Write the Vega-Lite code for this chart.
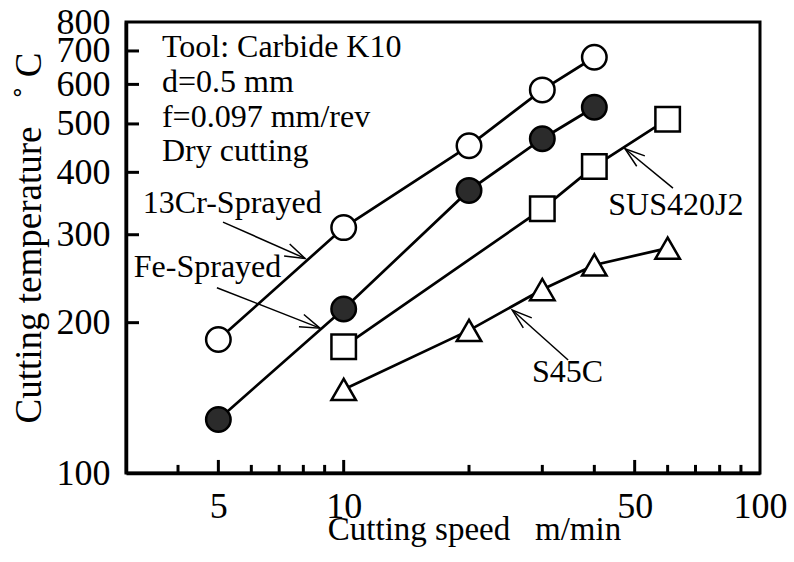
{
  "$schema": "https://vega.github.io/schema/vega-lite/v6.json",
  "width": 634,
  "height": 451,
  "autosize": {"type": "none"},
  "padding": {"left": 126, "top": 22, "right": 34, "bottom": 89},
  "background": "white",
  "config": {
    "view": {"stroke": "black", "strokeWidth": 3},
    "font": "Liberation Serif"
  },
  "datasets": {
    "points": [
      {"series": "13Cr-Sprayed", "speed": 5, "temp": 185},
      {"series": "13Cr-Sprayed", "speed": 10, "temp": 310},
      {"series": "13Cr-Sprayed", "speed": 20, "temp": 452},
      {"series": "13Cr-Sprayed", "speed": 30, "temp": 585},
      {"series": "13Cr-Sprayed", "speed": 40, "temp": 680},
      {"series": "Fe-Sprayed", "speed": 5, "temp": 128},
      {"series": "Fe-Sprayed", "speed": 10, "temp": 213},
      {"series": "Fe-Sprayed", "speed": 20, "temp": 368},
      {"series": "Fe-Sprayed", "speed": 30, "temp": 467},
      {"series": "Fe-Sprayed", "speed": 40, "temp": 540},
      {"series": "SUS420J2", "speed": 10, "temp": 179},
      {"series": "SUS420J2", "speed": 30, "temp": 338},
      {"series": "SUS420J2", "speed": 40, "temp": 411},
      {"series": "SUS420J2", "speed": 60, "temp": 511},
      {"series": "S45C", "speed": 10, "temp": 147},
      {"series": "S45C", "speed": 20, "temp": 193},
      {"series": "S45C", "speed": 30, "temp": 233},
      {"series": "S45C", "speed": 40, "temp": 261},
      {"series": "S45C", "speed": 60, "temp": 282}
    ],
    "arrows": [
      {"name": "13Cr", "x1": 5.13, "y1": 318, "x2": 8.075, "y2": 269},
      {"name": "Fe", "x1": 4.96, "y1": 235, "x2": 8.77, "y2": 195},
      {"name": "SUS", "x1": 61.8, "y1": 372, "x2": 47.4, "y2": 446},
      {"name": "S45C", "x1": 34.6, "y1": 168.4, "x2": 25.4, "y2": 212}
    ],
    "info": [
      {"line": "Tool: Carbide K10", "sx": 3.66, "ty": 681},
      {"line": "d=0.5 mm", "sx": 3.66, "ty": 579},
      {"line": "f=0.097 mm/rev", "sx": 3.66, "ty": 493},
      {"line": "Dry cutting", "sx": 3.66, "ty": 421}
    ],
    "labels": [
      {"label": "13Cr-Sprayed", "sx": 5.4, "ty": 331.6},
      {"label": "Fe-Sprayed", "sx": 4.71, "ty": 247},
      {"label": "SUS420J2", "sx": 62.8, "ty": 328.6},
      {"label": "S45C", "sx": 34.5, "ty": 152}
    ],
    "xticks": [
      {"v": 4, "kind": "minor"}, {"v": 5, "kind": "major"}, {"v": 6, "kind": "minor"},
      {"v": 7, "kind": "minor"}, {"v": 8, "kind": "minor"}, {"v": 9, "kind": "minor"},
      {"v": 10, "kind": "major"}, {"v": 20, "kind": "minor"}, {"v": 30, "kind": "minor"},
      {"v": 40, "kind": "minor"}, {"v": 50, "kind": "major"}, {"v": 60, "kind": "minor"},
      {"v": 70, "kind": "minor"}, {"v": 80, "kind": "minor"}, {"v": 90, "kind": "minor"}
    ],
    "yticks": [
      {"v": 200}, {"v": 300}, {"v": 400}, {"v": 500}, {"v": 600}, {"v": 700}
    ]
  },
  "layer": [
    {
      "data": {"name": "points"},
      "mark": {"type": "line", "color": "black", "strokeWidth": 2.7},
      "encoding": {
        "x": {
          "field": "speed", "type": "quantitative",
          "scale": {"type": "log", "domain": [3, 100], "nice": false},
          "axis": {
            "values": [5, 10, 50, 100],
            "format": "d",
            "grid": false,
            "ticks": false,
            "domainColor": "black",
            "domainWidth": 3.5,
            "labelFont": "Liberation Serif",
            "labelFontSize": 36,
            "labelColor": "black",
            "labelPadding": 16,
            "labelFlush": false,
            "labelOverlap": false,
            "title": "Cutting speed\u2002 m/min",
            "titleFont": "Liberation Serif",
            "titleFontSize": 33,
            "titleFontWeight": "normal",
            "titleColor": "black",
            "titleX": 348,
            "titleY": 66,
            "titleAlign": "center",
            "titleBaseline": "alphabetic"
          }
        },
        "y": {
          "field": "temp", "type": "quantitative",
          "scale": {"type": "log", "domain": [100, 800], "nice": false},
          "axis": {
            "values": [100, 200, 300, 400, 500, 600, 700, 800],
            "format": "d",
            "grid": false,
            "ticks": false,
            "domainColor": "black",
            "domainWidth": 3.5,
            "labelFont": "Liberation Serif",
            "labelFontSize": 36,
            "labelColor": "black",
            "labelPadding": 16,
            "labelFlush": false,
            "labelOverlap": false,
            "title": "Cutting temperature\u2002\u2005˚ C",
            "titleFont": "Liberation Serif",
            "titleFontSize": 37,
            "titleFontWeight": "normal",
            "titleColor": "black",
            "titleX": -86,
            "titleY": 401,
            "titleAngle": -90,
            "titleAlign": "left",
            "titleBaseline": "alphabetic"
          }
        },
        "detail": {"field": "series"}
      }
    },
    {
      "data": {"name": "xticks"},
      "transform": [{"filter": "datum.kind == 'major'"}],
      "mark": {"type": "rule", "color": "black", "strokeWidth": 3, "opacity": 1},
      "encoding": {
        "x": {"field": "v", "type": "quantitative"},
        "y": {"datum": 100, "type": "quantitative"},
        "y2": {"datum": 106.2}
      }
    },
    {
      "data": {"name": "xticks"},
      "transform": [{"filter": "datum.kind == 'minor'"}],
      "mark": {"type": "rule", "color": "black", "strokeWidth": 3, "opacity": 1},
      "encoding": {
        "x": {"field": "v", "type": "quantitative"},
        "y": {"datum": 100, "type": "quantitative"},
        "y2": {"datum": 103.8}
      }
    },
    {
      "data": {"name": "yticks"},
      "mark": {"type": "rule", "color": "black", "strokeWidth": 3, "opacity": 1},
      "encoding": {
        "y": {"field": "v", "type": "quantitative"},
        "x": {"datum": 3, "type": "quantitative"},
        "x2": {"datum": 3.224}
      }
    },
    {
      "data": {"name": "points"},
      "mark": {"type": "point", "filled": true, "stroke": "black", "strokeWidth": 2.5, "opacity": 1},
      "encoding": {
        "x": {"field": "speed", "type": "quantitative"},
        "y": {"field": "temp", "type": "quantitative"},
        "shape": {"field": "series", "type": "nominal", "scale": {"domain": ["13Cr-Sprayed", "Fe-Sprayed", "SUS420J2", "S45C"], "range": ["circle", "circle", "square", "triangle-up"]}, "legend": null},
        "fill": {"field": "series", "type": "nominal", "scale": {"domain": ["13Cr-Sprayed", "Fe-Sprayed", "SUS420J2", "S45C"], "range": ["white", "#2b2b2b", "white", "white"]}, "legend": null},
        "size": {"field": "series", "type": "nominal", "scale": {"domain": ["13Cr-Sprayed", "Fe-Sprayed", "SUS420J2", "S45C"], "range": [600, 600, 720, 800]}, "legend": null}
      }
    },
    {
      "data": {"name": "arrows"},
      "mark": {"type": "rule", "color": "black", "strokeWidth": 1.5},
      "encoding": {
        "x": {"field": "x1", "type": "quantitative"},
        "y": {"field": "y1", "type": "quantitative"},
        "x2": {"field": "x2"},
        "y2": {"field": "y2"}
      }
    },
    {
      "data": {"name": "arrows"},
      "transform": [{"filter": "datum.name == '13Cr'"}],
      "mark": {"type": "point", "shape": "M-1,-0.33L0,0L-1,0.33", "filled": false, "size": 1600, "strokeWidth": 1.5, "color": "black", "opacity": 1, "angle": 25},
      "encoding": {
        "x": {"field": "x2", "type": "quantitative"},
        "y": {"field": "y2", "type": "quantitative"}
      }
    },
    {
      "data": {"name": "arrows"},
      "transform": [{"filter": "datum.name == 'Fe'"}],
      "mark": {"type": "point", "shape": "M-1,-0.33L0,0L-1,0.33", "filled": false, "size": 1600, "strokeWidth": 1.5, "color": "black", "opacity": 1, "angle": 22},
      "encoding": {
        "x": {"field": "x2", "type": "quantitative"},
        "y": {"field": "y2", "type": "quantitative"}
      }
    },
    {
      "data": {"name": "arrows"},
      "transform": [{"filter": "datum.name == 'SUS'"}],
      "mark": {"type": "point", "shape": "M-1,-0.33L0,0L-1,0.33", "filled": false, "size": 1600, "strokeWidth": 1.5, "color": "black", "opacity": 1, "angle": 218},
      "encoding": {
        "x": {"field": "x2", "type": "quantitative"},
        "y": {"field": "y2", "type": "quantitative"}
      }
    },
    {
      "data": {"name": "arrows"},
      "transform": [{"filter": "datum.name == 'S45C'"}],
      "mark": {"type": "point", "shape": "M-1,-0.33L0,0L-1,0.33", "filled": false, "size": 1600, "strokeWidth": 1.5, "color": "black", "opacity": 1, "angle": 220},
      "encoding": {
        "x": {"field": "x2", "type": "quantitative"},
        "y": {"field": "y2", "type": "quantitative"}
      }
    },
    {
      "data": {"name": "info"},
      "mark": {"type": "text", "font": "Liberation Serif", "fontSize": 32, "align": "left", "baseline": "alphabetic", "color": "black"},
      "encoding": {
        "x": {"field": "sx", "type": "quantitative"},
        "y": {"field": "ty", "type": "quantitative"},
        "text": {"field": "line"}
      }
    },
    {
      "data": {"name": "labels"},
      "mark": {"type": "text", "font": "Liberation Serif", "fontSize": 32, "align": "center", "baseline": "alphabetic", "color": "black"},
      "encoding": {
        "x": {"field": "sx", "type": "quantitative"},
        "y": {"field": "ty", "type": "quantitative"},
        "text": {"field": "label"}
      }
    }
  ]
}
